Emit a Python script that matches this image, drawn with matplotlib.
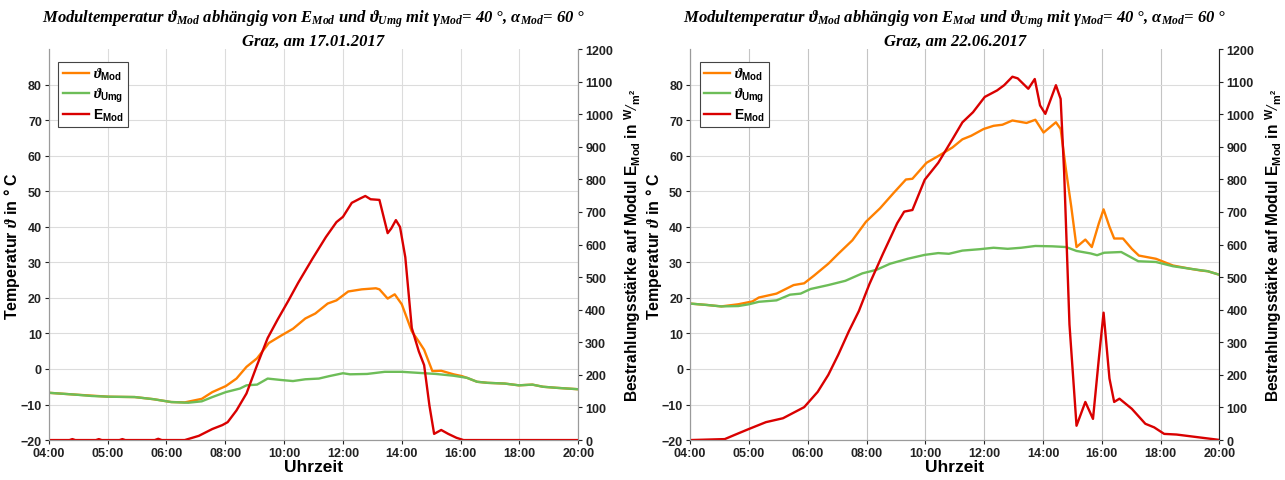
import matplotlib

matplotlib.use("Agg")
import matplotlib.pyplot as plt

plt.rcParams["font.family"] = ["Liberation Sans", "DejaVu Sans"]
plt.rcParams["font.weight"] = "bold"
plt.rcParams["mathtext.fontset"] = "custom"
plt.rcParams["mathtext.it"] = "Liberation Serif:italic:bold"
plt.rcParams["mathtext.rm"] = "Liberation Serif:italic:bold"
plt.rcParams["mathtext.bf"] = "Liberation Sans:bold"

# x axis: evenly spaced ticks, labels as in the original export
tick_labels = ["04:00", "05:00", "06:00", "08:00", "10:00", "12:00",
               "14:00", "16:00", "18:00", "20:00"]
dates = ["17.01.2017", "22.06.2017"]

# ---- 17.01.2017 ----
jan_mod_x = [0, 0.44, 1.02, 1.46, 1.78, 2.08, 2.31, 2.60, 2.78, 3.01, 3.19, 3.36,
             3.54, 3.74, 3.95, 4.15, 4.36, 4.53, 4.74, 4.89, 5.09, 5.32, 5.56, 5.62,
             5.76, 5.88, 6.00, 6.17, 6.29, 6.38, 6.52, 6.67, 6.88, 7.02, 7.11, 7.28,
             7.46, 7.75, 7.99, 8.22, 8.40, 8.63, 9.0]
jan_mod_t = [-6.7, -7.2, -7.8, -7.9, -8.5, -9.3, -9.4, -8.4, -6.5, -4.8, -2.7, 0.6,
             3.0, 7.3, 9.4, 11.3, 14.2, 15.6, 18.4, 19.3, 21.8, 22.4, 22.7, 22.4,
             19.8, 21.0, 18.2, 10.6, 7.7, 5.4, -0.6, -0.5, -1.5, -2.0, -2.5, -3.6,
             -3.9, -4.1, -4.6, -4.4, -5.0, -5.3, -5.7]

jan_umg_x = [0, 0.44, 0.73, 1.02, 1.46, 1.78, 2.08, 2.37, 2.60, 2.78, 3.01, 3.25,
             3.36, 3.54, 3.72, 3.95, 4.15, 4.36, 4.59, 4.77, 5.00, 5.12, 5.41, 5.71,
             6.00, 6.29, 6.58, 6.88, 7.11, 7.28, 7.46, 7.75, 7.99, 8.22, 8.40, 8.63,
             9.0]
jan_umg_t = [-6.7, -7.2, -7.6, -7.8, -7.9, -8.5, -9.3, -9.5, -9.1, -7.9, -6.5, -5.5,
             -4.6, -4.4, -2.7, -3.1, -3.4, -2.9, -2.7, -2.0, -1.2, -1.5, -1.4, -0.8,
             -0.8, -1.1, -1.4, -1.9, -2.5, -3.6, -3.9, -4.1, -4.6, -4.4, -5.0, -5.3,
             -5.7]

jan_e_x = [0, 0.35, 0.40, 0.45, 0.80, 0.85, 0.90, 1.20, 1.25, 1.30, 1.80, 1.86,
           1.92, 2.31, 2.55, 2.78, 2.95, 3.04, 3.19, 3.36, 3.54, 3.72, 3.89, 4.07,
           4.24, 4.48, 4.71, 4.89, 5.00, 5.15, 5.30, 5.38, 5.47, 5.62, 5.76, 5.82,
           5.90, 5.97, 6.06, 6.17, 6.29, 6.38, 6.47, 6.55, 6.67, 6.79, 6.93, 7.05,
           9.0]
jan_e = [0, 0, 3, 0, 0, 3, 0, 0, 3, 0, 0, 4,
         0, 0, 13, 34, 46, 55, 91, 143, 230, 313, 370, 427,
         483, 556, 623, 669, 685, 728, 742, 749, 739, 737, 635, 649,
         675, 654, 561, 344, 272, 230, 106, 19, 31, 19, 7, 0,
         0]

# ---- 22.06.2017 ----
jun_mod_x = [0, 0.29, 0.53, 0.82, 1.06, 1.17, 1.47, 1.76, 1.94, 2.11, 2.35, 2.52,
             2.76, 2.99, 3.23, 3.46, 3.67, 3.78, 4.02, 4.22, 4.46, 4.63, 4.78, 4.99,
             5.16, 5.31, 5.48, 5.72, 5.87, 6.01, 6.22, 6.30, 6.39, 6.48, 6.57, 6.72,
             6.83, 6.95, 7.03, 7.13, 7.21, 7.36, 7.51, 7.63, 7.92, 8.21, 8.50, 8.68,
             8.80, 9.02]
jun_mod_t = [18.4, 18.0, 17.6, 18.2, 19.0, 20.1, 21.2, 23.6, 24.1, 26.3, 29.6, 32.4,
             36.2, 41.4, 45.2, 49.5, 53.3, 53.5, 58.0, 59.9, 62.3, 64.6, 65.6, 67.5,
             68.4, 68.7, 69.9, 69.2, 70.1, 66.5, 69.4, 67.5, 56.1, 45.7, 34.3, 36.4,
             34.3, 41.0, 44.9, 40.0, 36.7, 36.7, 33.8, 31.9, 31.0, 29.1, 28.2, 27.7,
             27.5, 26.4]

jun_umg_x = [0, 0.29, 0.53, 0.82, 1.0, 1.17, 1.47, 1.70, 1.88, 2.05, 2.35, 2.64,
             2.93, 3.17, 3.40, 3.70, 3.99, 4.22, 4.40, 4.63, 4.93, 5.16, 5.40, 5.63,
             5.87, 6.16, 6.39, 6.57, 6.81, 6.92, 7.04, 7.33, 7.62, 7.92, 8.21, 8.50,
             8.80, 9.02]
jun_umg_t = [18.4, 18.0, 17.6, 17.7, 18.2, 18.9, 19.3, 20.9, 21.2, 22.5, 23.6, 24.8,
             26.9, 27.9, 29.6, 31.0, 32.1, 32.6, 32.4, 33.3, 33.7, 34.1, 33.8, 34.1,
             34.6, 34.5, 34.3, 33.2, 32.5, 32.0, 32.7, 32.9, 30.3, 30.1, 28.9, 28.2,
             27.5, 26.4]

jun_e_x = [0, 0.59, 0.76, 1.0, 1.29, 1.58, 1.94, 2.17, 2.35, 2.52, 2.70, 2.87,
           3.05, 3.28, 3.52, 3.64, 3.78, 3.99, 4.22, 4.46, 4.63, 4.81, 5.01, 5.22,
           5.34, 5.48, 5.57, 5.75, 5.86, 5.95, 6.04, 6.22, 6.30, 6.36, 6.45, 6.57,
           6.72, 6.85, 6.95, 7.03, 7.13, 7.21, 7.30, 7.51, 7.74, 7.89, 8.06, 8.27,
           9.02]
jun_e = [0, 3, 16, 34, 55, 67, 101, 148, 200, 262, 334, 396,
         479, 572, 665, 701, 706, 799, 851, 923, 975, 1006, 1053, 1073,
         1089, 1115, 1110, 1078, 1108, 1027, 1001, 1089, 1047, 820, 355, 44,
         117, 65, 251, 391, 189, 117, 127, 96, 50, 39, 19, 17,
         0]

C_MOD = "#ff8000"
C_UMG = "#6dbd58"
C_E = "#d90000"

fig = plt.figure(figsize=(12.85, 4.81), dpi=100)
positions = [(0.038, 0.083, 0.412, 0.813), (0.537, 0.083, 0.412, 0.813)]
datasets = [
    (jan_mod_x, jan_mod_t, jan_umg_x, jan_umg_t, jan_e_x, jan_e),
    (jun_mod_x, jun_mod_t, jun_umg_x, jun_umg_t, jun_e_x, jun_e),
]

for i, (pos, data, date) in enumerate(zip(positions, datasets, dates)):
    mx, mt, ux, ut, ex, ev = data
    ax = fig.add_axes(pos)
    ax2 = ax.twinx()

    l1, = ax.plot(mx, mt, color=C_MOD, lw=1.7)
    l2, = ax.plot(ux, ut, color=C_UMG, lw=1.7)
    l3, = ax2.plot(ex, ev, color=C_E, lw=1.7)

    ax.set_xlim(0, 9)
    ax.set_ylim(-20, 90)
    ax.set_yticks(range(-20, 90, 10))
    ax2.set_ylim(0, 1200)
    ax2.set_yticks(range(0, 1300, 100))
    ax.set_xticks(range(10))
    ax.set_xticklabels(tick_labels)

    gcol = "#dcdcdc" if i == 0 else "#c4c4c4"
    ax.grid(True, axis="x", color=gcol, lw=0.8)
    ax.grid(True, axis="y", color="#dcdcdc", lw=0.8)
    ax.set_axisbelow(True)

    for a in (ax, ax2):
        a.tick_params(labelsize=9, length=3, width=0.8, colors="#222222",
                      pad=2)
        for lab in a.get_xticklabels() + a.get_yticklabels():
            lab.set_fontweight("bold")
        a.spines["top"].set_visible(False)
        for s in ("left", "right", "bottom"):
            a.spines[s].set_color("#9a9a9a")
    if i == 1:
        ax2.spines["right"].set_color("#222222")

    ax.set_xlabel("Uhrzeit", fontsize=12.5, fontweight="bold", labelpad=0)
    ax.set_ylabel(r"Temperatur $\vartheta$ in ° C", fontsize=11.5,
                  fontweight="bold")
    ax.yaxis.set_label_coords(-0.05, 0.5)
    ax2.set_ylabel(r"Bestrahlungsstärke auf Modul $\mathbf{E}_{\mathbf{Mod}}$ in "
                   r"$^{\mathbf{W}}/_{\mathbf{m^2}}$",
                   fontsize=11.2, fontweight="bold")
    ax2.yaxis.set_label_coords(1.082, 0.5)

    ax.set_title(r"Modultemperatur $\vartheta_{Mod}$ abhängig von $E_{Mod}$ und "
                 r"$\vartheta_{Umg}$ mit $\gamma_{Mod}$= 40 °, $\alpha_{Mod}$= 60 °"
                 + "\nGraz, am " + date,
                 fontsize=12, family="Liberation Serif", style="italic",
                 fontweight="bold", pad=2, linespacing=1.3)

    leg = ax2.legend([l1, l2, l3],
                     [r"$\vartheta_{\mathbf{Mod}}$", r"$\vartheta_{\mathbf{Umg}}$",
                      r"$\mathbf{E}_{\mathbf{Mod}}$"],
                     loc="upper left", bbox_to_anchor=(0.005, 0.985),
                     fontsize=10, handlelength=1.9, handletextpad=0.3,
                     labelspacing=0.25, borderpad=0.3, fancybox=False,
                     edgecolor="#444444", framealpha=1)
    leg.get_frame().set_linewidth(0.8)

fig.savefig("out.png", dpi=100)
